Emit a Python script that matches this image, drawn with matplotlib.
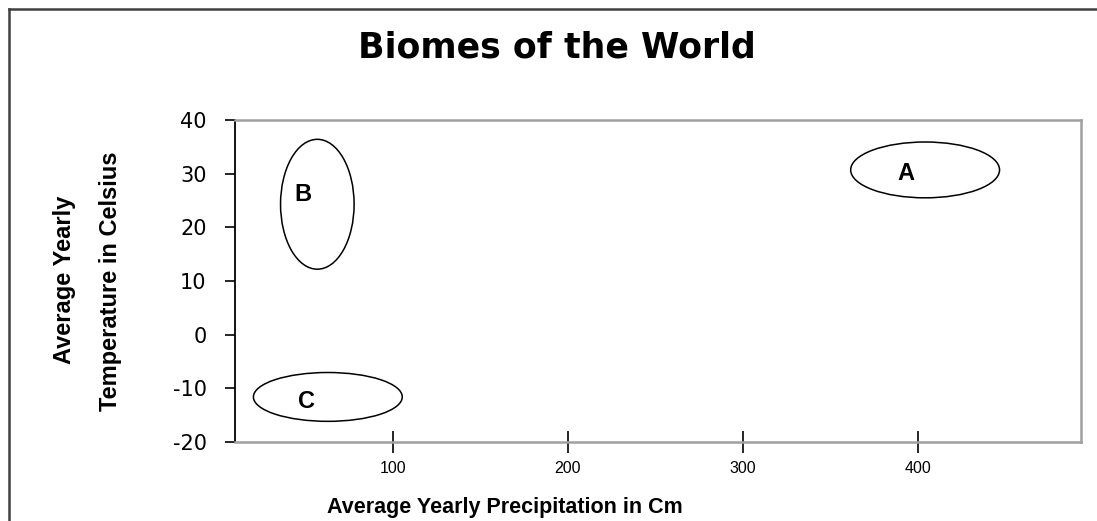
import matplotlib
matplotlib.use('Agg')
import matplotlib.pyplot as plt
from matplotlib.patches import Ellipse
from matplotlib.lines import Line2D

# biome regions (centre x, centre y, width, height) in data units
biome_names = ['A', 'B', 'C']
center_x = [404, 57, 63]
center_y = [30.7, 24.3, -11.6]
ell_width = [85, 42, 85]
ell_height = [10.4, 24.2, 9.1]
label_x = [393, 48.6, 51]
label_y = [30.1, 26.2, -12.5]

y_ticks = [-20, -10, 0, 10, 20, 30, 40]
x_ticks = [100, 200, 300, 400]

narrow = ['Liberation Sans Narrow', 'Liberation Sans', 'DejaVu Sans']
wide = ['DejaVu Sans']

fig = plt.figure(figsize=(10.97, 5.21), dpi=100)
ax = fig.add_axes([235 / 1097, 1 - 442 / 521, 846 / 1097, 322 / 521])

for name, cx, cy, w, h, lx, ly in zip(biome_names, center_x, center_y,
                                      ell_width, ell_height, label_x, label_y):
    ax.add_patch(Ellipse((cx, cy), w, h, fill=False, edgecolor='black', lw=1.1))
    ax.text(lx, ly, name, family=narrow, fontweight='bold', fontsize=17,
            ha='center', va='center')

ax.set_xlim(10, 493)
ax.set_ylim(-20, 40)
ax.set_yticks(y_ticks)
ax.set_xticks(x_ticks)
ax.set_yticklabels([str(v) for v in y_ticks], family=wide, fontsize=15)
ax.set_xticklabels([str(v) for v in x_ticks], family=narrow, fontsize=11.5)
ax.tick_params(axis='y', direction='out', length=7.5, width=1.2, pad=13)
ax.tick_params(axis='x', direction='inout', length=16, width=1.2, pad=6)

ax.spines['left'].set_color('black')
ax.spines['left'].set_linewidth(1.3)
for s in ['top', 'right', 'bottom']:
    ax.spines[s].set_color('#a0a0a0')
    ax.spines[s].set_linewidth(1.8)

fig.text(505 / 1097, 1 - 507 / 521, 'Average Yearly Precipitation in Cm',
         family=narrow, fontweight='bold', fontsize=15.5, ha='center', va='center')

fig.text(65 / 1097, 1 - 280 / 521, 'Average Yearly', rotation=90,
         family=narrow, fontweight='bold', fontsize=17, ha='center', va='center')
fig.text(110 / 1097, 1 - 281 / 521, 'Temperature in Celsius', rotation=90,
         family=narrow, fontweight='bold', fontsize=17, ha='center', va='center')

fig.text(557 / 1097, 1 - 47 / 521, 'Biomes of the World', family=wide,
         fontweight='bold', fontsize=25, ha='center', va='center')

# outer frame (only top and left edges are visible)
fig.add_artist(Line2D([9 / 1097, 9 / 1097], [0, 1 - 9 / 521], color='#404040', lw=1.8))
fig.add_artist(Line2D([9 / 1097, 1], [1 - 9 / 521, 1 - 9 / 521], color='#404040', lw=1.8))

fig.savefig('out.png', dpi=100)
